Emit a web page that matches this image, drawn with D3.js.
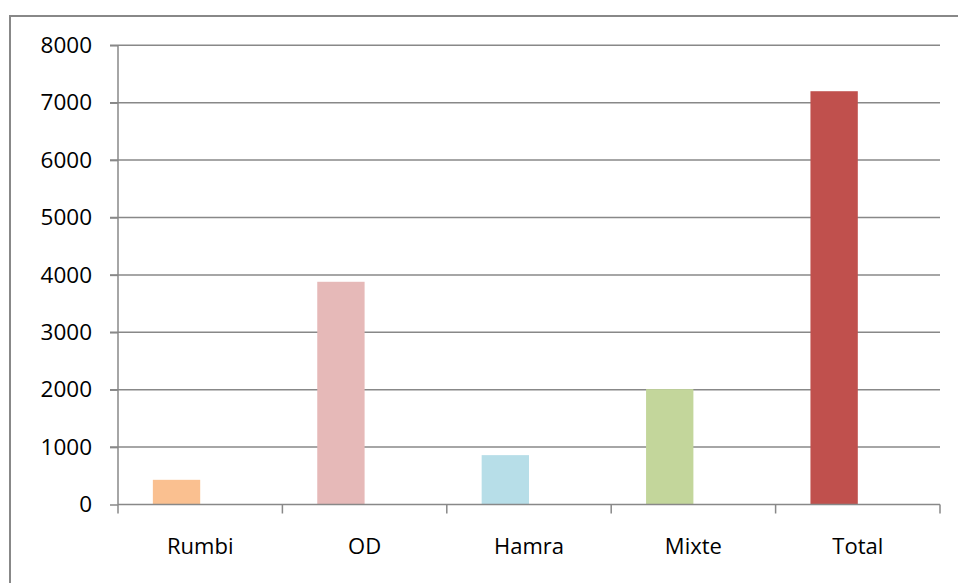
<!DOCTYPE html>
<html><head><meta charset="utf-8">
<script src="https://cdn.jsdelivr.net/npm/d3@7"></script>
<style>body{margin:0;background:#fff}svg{display:block}text{font-family:"Open Sans",sans-serif}</style>
</head><body>
<script>
const categories = ["Rumbi", "OD", "Hamra", "Mixte", "Total"];
const values = [430, 3880, 860, 2010, 7200];
const colors = ["#FAC090", "#E6B9B8", "#B7DEE8", "#C3D69B", "#C0504D"];
const yTicks = [0, 1000, 2000, 3000, 4000, 5000, 6000, 7000, 8000];

(function () {
const W = 958, H = 583;
const svg = d3.select("body").append("svg").attr("width", W).attr("height", H);
const gray = "#888888";

svg.append("rect").attr("x", 10).attr("y", 16).attr("width", 960).attr("height", 580)
  .attr("fill", "none").attr("stroke", gray).attr("stroke-width", 2);

const pl = 118, pr = 940, pt = 45.3, pb = 504.5;
const x = d3.scaleBand().domain(categories).range([pl, pr]).paddingInner(0).paddingOuter(0);
const y = d3.scaleLinear().domain([0, 8000]).range([pb, pt]);

// gridlines
svg.append("g").selectAll("line").data(yTicks.filter(d => d > 0)).join("line")
  .attr("x1", pl - 8).attr("x2", pr)
  .attr("y1", d => y(d)).attr("y2", d => y(d))
  .attr("stroke", gray).attr("stroke-width", 1.5);

// bars (first slot of a two-slot cluster: right edge at band centre)
const bw = x.bandwidth() * 0.288;
svg.append("g").selectAll("rect").data(categories).join("rect")
  .attr("x", d => x(d) + x.bandwidth() / 2 - bw)
  .attr("width", bw)
  .attr("y", (d, i) => y(values[i]))
  .attr("height", (d, i) => y(0) - y(values[i]))
  .attr("fill", (d, i) => colors[i]);

// y axis
const yAxis = svg.append("g").attr("transform", `translate(${pl},0)`)
  .call(d3.axisLeft(y).tickValues(yTicks).tickSize(8).tickPadding(18).tickFormat(d3.format("d")));
yAxis.selectAll("line").attr("stroke", gray).attr("stroke-width", 1.5);
yAxis.select(".domain").attr("stroke", gray).attr("stroke-width", 1.5).attr("d", `M0,${pt}V${pb}`);
yAxis.selectAll("text").attr("font-size", 22.5).attr("fill", "#000").attr("font-family", "'Open Sans',sans-serif");

// x axis
const xAxis = svg.append("g").attr("transform", `translate(0,${pb})`)
  .call(d3.axisBottom(x).tickSize(0).tickPadding(34));
xAxis.select(".domain").attr("stroke", gray).attr("stroke-width", 1.5).attr("d", `M${pl},0H${pr}`);
xAxis.selectAll("text").attr("font-size", 22).attr("fill", "#000").attr("font-family", "'Open Sans',sans-serif");
// category boundary ticks
const bounds = categories.map(c => x(c)).concat([pr]);
svg.append("g").selectAll("line").data(bounds).join("line")
  .attr("x1", d => d).attr("x2", d => d)
  .attr("y1", pb).attr("y2", pb + 9)
  .attr("stroke", gray).attr("stroke-width", 1.5);
})();
</script>
</body></html>
